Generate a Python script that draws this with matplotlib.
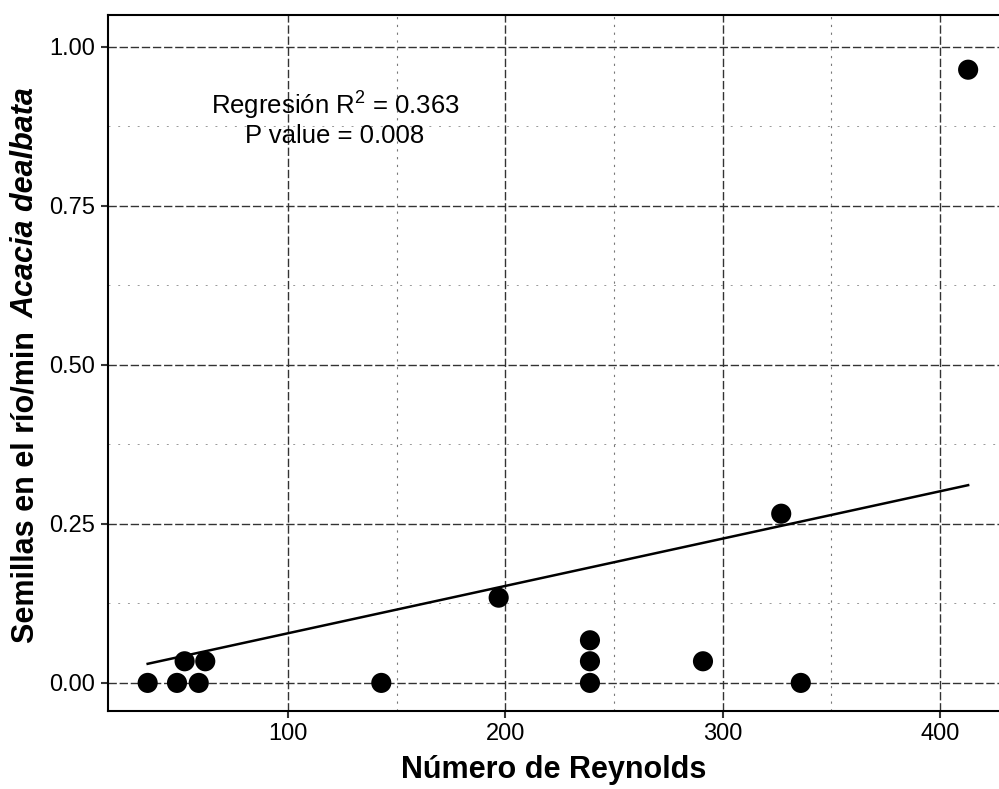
import numpy as np
import matplotlib
matplotlib.use("Agg")
import matplotlib.pyplot as plt

# Data
reynolds = [35.5, 49, 59, 52.5, 62, 143, 197, 239, 239, 239, 291, 327, 336, 413]
semillas = [0.0, 0.0, 0.0, 0.034, 0.034, 0.0, 0.134, 0.067, 0.034, 0.0, 0.034, 0.266, 0.0, 0.964]

# fitted line as drawn in the figure
fit_intercept = 0.0036
fit_slope = 0.000744

x_ticks = [100, 200, 300, 400]
y_ticks = [0.00, 0.25, 0.50, 0.75, 1.00]
y_ticklabels = ["0.00", "0.25", "0.50", "0.75", "1.00"]
x_minor = [150, 250, 350]
y_minor = [0.125, 0.375, 0.625, 0.875]

stats_text = "Regresión R$^2$ = 0.363\nP value = 0.008"

plt.rcParams["font.family"] = ["Liberation Sans", "DejaVu Sans"]
plt.rcParams["mathtext.fontset"] = "custom"
plt.rcParams["mathtext.rm"] = "Liberation Sans"

fig = plt.figure(figsize=(9.99, 7.89), dpi=100)
ax = fig.add_axes([0.108, 0.099, 0.892, 0.882])

# grid
for v in x_ticks:
    ax.axvline(v, color="#333333", lw=1.0, ls=(0, (6, 2)), zorder=0)
for v in y_ticks:
    ax.axhline(v, color="#333333", lw=1.0, ls=(0, (6, 2)), zorder=0)
for v in x_minor:
    ax.axvline(v, color="#777777", lw=0.8, ls=(0, (2, 5)), zorder=0)
for v in y_minor:
    ax.axhline(v, color="#999999", lw=0.7, ls=(0, (2, 8)), zorder=0)

# regression line over the data range
xf = np.array([min(reynolds), max(reynolds)])
ax.plot(xf, fit_intercept + fit_slope * xf, color="black", lw=1.8, zorder=2)

ax.scatter(reynolds, semillas, s=210, color="black", edgecolors="none", zorder=3)

ax.text(121.7, 0.888, stats_text, ha="center", va="center", fontsize=18.5,
        linespacing=1.2)

ax.set_xlim(17.2, 427.2)
ax.set_ylim(-0.044, 1.050)
ax.set_xticks(x_ticks)
ax.set_yticks(y_ticks)
ax.set_yticklabels(y_ticklabels)
ax.tick_params(labelsize=17, length=5, width=1.5, color="#333333", labelcolor="black", pad=4)

for side in ["left", "bottom", "top"]:
    ax.spines[side].set_linewidth(1.5)
ax.spines["right"].set_visible(False)

ax.set_xlabel("Número de Reynolds", fontsize=22, fontweight="bold", labelpad=7)

# y label in two parts (species name in italics)
fig.text(0.026, 1 - 643 / 789, "Semillas en el río/min", rotation=90,
         ha="center", va="bottom", fontsize=22, fontweight="bold")
fig.text(0.026, 1 - 318 / 789, "Acacia dealbata", rotation=90,
         ha="center", va="bottom", fontsize=22, fontweight="bold", fontstyle="italic")

fig.savefig("out.png", dpi=100)
